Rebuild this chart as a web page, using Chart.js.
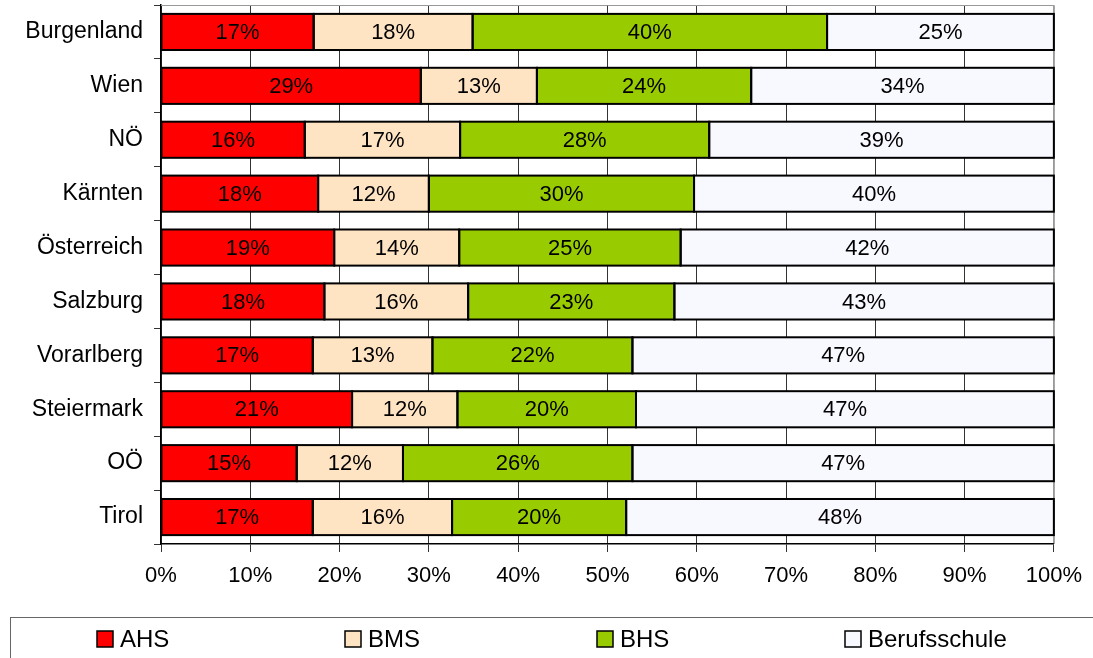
<!DOCTYPE html>
<html>
<head>
<meta charset="utf-8">
<script src="https://cdn.jsdelivr.net/npm/chart.js@4"></script>
<style>
  html, body { margin: 0; padding: 0; background: #fff; }
  #wrap { width: 1093px; height: 658px; }
</style>
</head>
<body>
<div id="wrap"><canvas id="chart" width="1093" height="658"></canvas></div>
<script>
// Data (shares in %)
const regions = ['Burgenland', 'Wien', 'NÖ', 'Kärnten', 'Österreich', 'Salzburg', 'Vorarlberg', 'Steiermark', 'OÖ', 'Tirol'];
const ahs          = [17.1, 29.1, 16.1, 17.6, 19.4, 18.3, 17.0, 21.4, 15.2, 17.0];
const bms          = [17.8, 13.0, 17.4, 12.4, 14.0, 16.1, 13.4, 11.8, 11.9, 15.6];
const bhs          = [39.7, 24.0, 27.9, 29.7, 24.8, 23.1, 22.4, 20.0, 25.7, 19.5];
const berufsschule = [25.4, 33.9, 38.6, 40.3, 41.8, 42.5, 47.2, 46.8, 47.2, 47.9];
const xTicks = [0, 10, 20, 30, 40, 50, 60, 70, 80, 90, 100];

const FONT = '"Liberation Sans", Arial, sans-serif';

// gray frame around the plot area (top / right)
const framePlugin = {
    id: 'frame',
    beforeDatasetsDraw(chart) {
        const { ctx, chartArea: a } = chart;
        ctx.save();
        ctx.strokeStyle = '#999';
        ctx.lineWidth = 1;
        ctx.beginPath();
        ctx.moveTo(a.left, a.top + 0.5);
        ctx.lineTo(a.right + 0.5, a.top + 0.5);
        ctx.lineTo(a.right + 0.5, a.bottom);
        ctx.stroke();
        ctx.restore();
    }
};

// black outline + percentage text for every segment
const labelPlugin = {
    id: 'segLabels',
    afterDatasetsDraw(chart) {
        const ctx = chart.ctx;
        ctx.save();
        ctx.strokeStyle = '#000';
        ctx.lineWidth = 2;
        chart.data.datasets.forEach((ds, i) => {
            chart.getDatasetMeta(i).data.forEach((bar) => {
                const x0 = Math.min(bar.x, bar.base);
                ctx.strokeRect(x0, bar.y - bar.height / 2, Math.abs(bar.x - bar.base), bar.height);
            });
        });
        ctx.font = '22px ' + FONT;
        ctx.fillStyle = '#000';
        ctx.textAlign = 'center';
        ctx.textBaseline = 'middle';
        chart.data.datasets.forEach((ds, i) => {
            chart.getDatasetMeta(i).data.forEach((bar, j) => {
                const cx = (bar.x + bar.base) / 2;
                ctx.fillText(Math.round(ds.data[j]) + '%', cx, bar.y + 1);
            });
        });
        ctx.restore();
    }
};

// boxed legend at the bottom
const legendPlugin = {
    id: 'boxLegend',
    afterDraw(chart) {
        const ctx = chart.ctx;
        const slots = [97, 345, 597, 845];
        ctx.save();
        ctx.strokeStyle = '#666';
        ctx.lineWidth = 1;
        ctx.strokeRect(10.5, 617.5, 1200, 100);
        ctx.font = '24px ' + FONT;
        ctx.textBaseline = 'middle';
        ctx.textAlign = 'left';
        chart.data.datasets.forEach((ds, i) => {
            const x = slots[i];
            ctx.fillStyle = ds.backgroundColor;
            ctx.fillRect(x, 631, 16, 16);
            ctx.strokeStyle = '#000';
            ctx.lineWidth = 1.5;
            ctx.strokeRect(x, 631, 16, 16);
            ctx.fillStyle = '#000';
            ctx.fillText(ds.label, x + 23, 640);
        });
        ctx.restore();
    }
};

const seg = (label, data, color) => ({
    label: label,
    data: data,
    backgroundColor: color,
    borderWidth: 0,
    categoryPercentage: 0.67,
    barPercentage: 1
});

new Chart(document.getElementById('chart'), {
    type: 'bar',
    data: {
        labels: regions,
        datasets: [
            seg('AHS', ahs, '#FF0000'),
            seg('BMS', bms, '#FFE4C4'),
            seg('BHS', bhs, '#99CC00'),
            seg('Berufsschule', berufsschule, '#F8F8FF')
        ]
    },
    options: {
        indexAxis: 'y',
        responsive: false,
        animation: false,
        layout: { padding: { top: 5, right: 37, bottom: 54, left: 0 } },
        plugins: {
            legend: { display: false },
            tooltip: { enabled: false }
        },
        scales: {
            x: {
                stacked: true,
                min: 0,
                max: 100,
                afterBuildTicks: (axis) => { axis.ticks = xTicks.map(v => ({ value: v })); },
                afterFit: (axis) => { axis.height = 60; },
                ticks: {
                    color: '#000',
                    padding: 11,
                    maxRotation: 0,
                    font: { size: 22, family: FONT },
                    callback: (v) => v + '%'
                },
                grid: {
                    color: (c) => (c.tick && c.tick.value === 100) ? '#999' : '#333',
                    lineWidth: 1,
                    tickLength: 8,
                    tickColor: '#333'
                },
                border: { color: '#000', width: 1.5 }
            },
            y: {
                stacked: true,
                afterFit: (axis) => {
                    axis.width = 161;
                    axis.paddingTop = 0;
                    axis.paddingBottom = 0;
                },
                ticks: {
                    color: '#000',
                    padding: 11,
                    font: { size: 23, family: FONT }
                },
                grid: {
                    offset: true,
                    drawOnChartArea: false,
                    tickLength: 7,
                    color: '#333'
                },
                border: { color: '#000', width: 1.5 }
            }
        }
    },
    plugins: [framePlugin, labelPlugin, legendPlugin]
});
</script>
</body>
</html>
